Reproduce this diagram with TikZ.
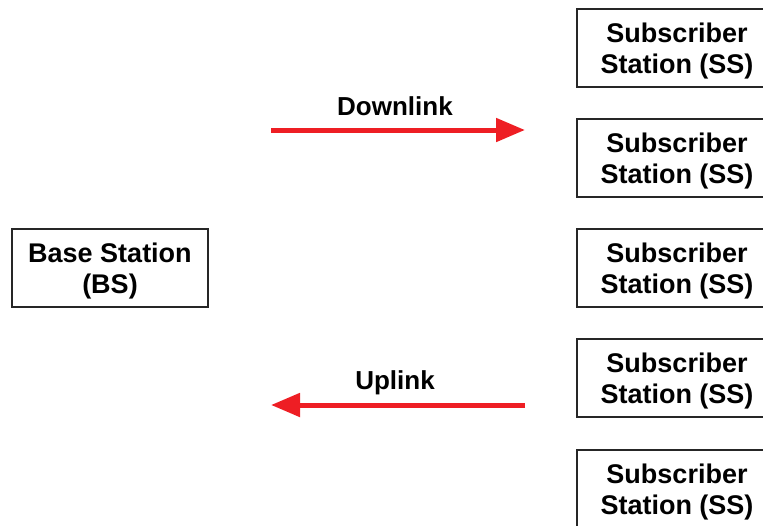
\documentclass[tikz,border=0pt]{standalone}
\usepackage{fontspec}
\setmainfont{Liberation Sans}
\usetikzlibrary{arrows.meta}
\definecolor{linkred}{RGB}{238,30,36}
\tikzset{
  station/.style={draw=black!85,line width=1.3pt,align=center,inner sep=0pt,
    font=\fontsize{27}{31}\selectfont\bfseries,minimum height=78pt,text height=57pt},
  link/.style={linkred,line width=5pt,-{Triangle[length=29pt,width=23pt]}},
  linklabel/.style={font=\fontsize{26}{31}\selectfont\bfseries}
}

\begin{document}
\begin{tikzpicture}[x=1pt,y=-1pt]
	\useasboundingbox (0,0) rectangle (763,525);
	\clip (0,0) rectangle (763,525);
	% base station
	\node[station,minimum width=196pt] (bs) at (110,268) {Base Station\\(BS)};
	% subscriber stations
	\foreach \i/\y in {1/48,2/158,3/268,4/378,5/489}
		\node[station,minimum width=200pt] (ss\i) at (677,\y) {Subscriber\\Station (SS)};
	% define coordinates
	\coordinate (dlA) at (271,130);
	\coordinate (dlB) at (525,130);
	\coordinate (ulA) at (525,405);
	\coordinate (ulB) at (271,405);
	% links
	\draw[link] (dlA) -- (dlB);
	\draw[link] (ulA) -- (ulB);
	\node[linklabel] (dl) at (395,106) {Downlink};
	\node[linklabel] (ul) at (395,383) {Uplink};
\end{tikzpicture}
\end{document}
